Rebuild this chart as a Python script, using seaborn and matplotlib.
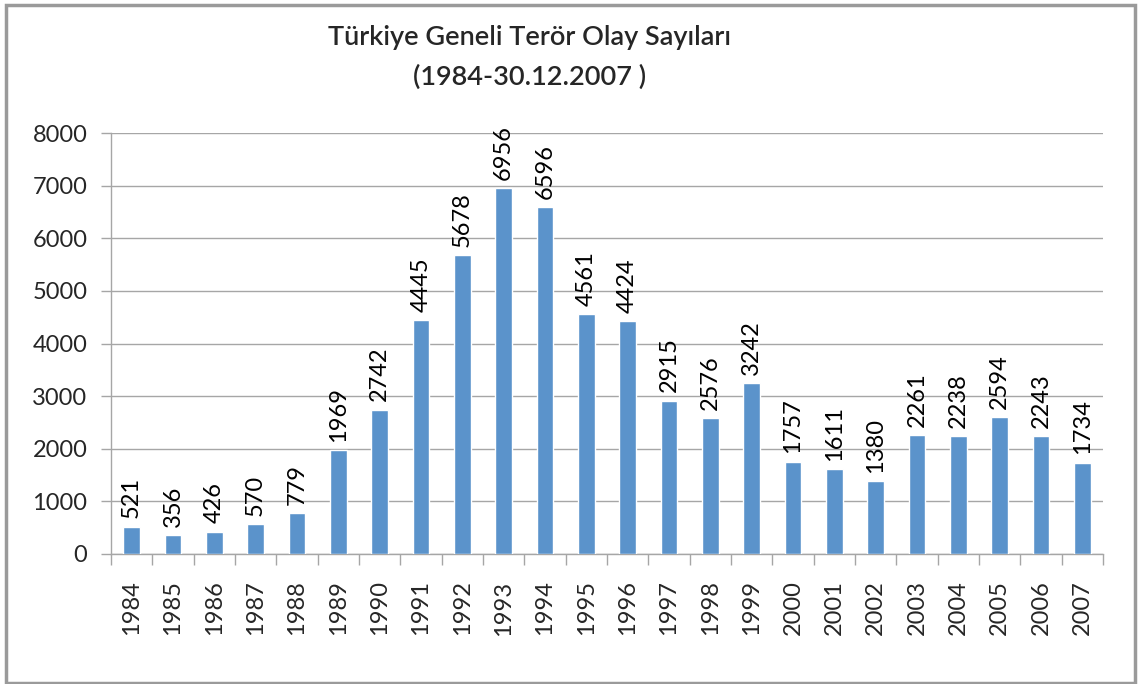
import numpy as np
import pandas as pd
import matplotlib
matplotlib.use('Agg')
import matplotlib.pyplot as plt
from matplotlib.patches import Rectangle
import seaborn as sns

years = [str(y) for y in range(1984, 2008)]
counts = [521, 356, 426, 570, 779, 1969, 2742, 4445, 5678, 6956, 6596, 4561,
          4424, 2915, 2576, 3242, 1757, 1611, 1380, 2261, 2238, 2594, 2243, 1734]
title_lines = ["Türkiye Geneli Terör Olay Sayıları", "(1984-30.12.2007 )"]

df = pd.DataFrame({"Yil": years, "Sayi": counts})

sns.set_theme(style="white")
plt.rcParams['font.family'] = ['Lato', 'DejaVu Sans']

grid_col = "#A6A6A6"
bar_col = "#5B93CB"

fig = plt.figure(figsize=(11.39, 6.84), dpi=100)
ax = fig.add_axes([111 / 1139, 1 - 554 / 684, (1103 - 111) / 1139, (554 - 133) / 684])

sns.barplot(data=df, x="Yil", y="Sayi", color=bar_col, width=0.4,
            saturation=1, ax=ax, zorder=3)

ax.set_ylim(0, 8000)
ax.set_xlim(-0.5, len(years) - 0.5)
ax.set_yticks(np.arange(0, 8001, 1000))
ax.yaxis.grid(True, color=grid_col, linewidth=1.0, zorder=0)
ax.set_xlabel("")
ax.set_ylabel("")

for s in ["top", "right"]:
    ax.spines[s].set_visible(False)
for s in ["left", "bottom"]:
    ax.spines[s].set_color(grid_col)
    ax.spines[s].set_linewidth(1.0)

ax.tick_params(axis="y", which="major", length=7, color=grid_col, width=1.0,
               labelsize=17, pad=10, left=True)
ax.tick_params(axis="x", which="major", length=0, labelsize=17, pad=19,
               labelrotation=90)
ax.set_xticks(np.arange(-0.5, len(years), 1.0), minor=True)
ax.tick_params(axis="x", which="minor", length=8, color=grid_col, width=1.0,
               bottom=True)

for lab in ax.get_xticklabels():
    lab.set_va("top")

ax.bar_label(ax.containers[0], labels=[str(c) for c in counts], rotation=90,
             padding=6, fontsize=17, color="black")

fig.text(530 / 1139, 1 - 38 / 684, title_lines[0], ha="center", va="center",
         fontsize=19.5, fontweight="semibold")
fig.text(530 / 1139, 1 - 77 / 684, title_lines[1], ha="center", va="center",
         fontsize=19.5, fontweight="semibold")

fig.add_artist(Rectangle((6 / 1139, 1 / 684), 1129 / 1139, 678 / 684,
                         transform=fig.transFigure, fill=False,
                         edgecolor="#9A9A9A", linewidth=2.5))

fig.savefig("out.png", dpi=100)
plt.close(fig)
